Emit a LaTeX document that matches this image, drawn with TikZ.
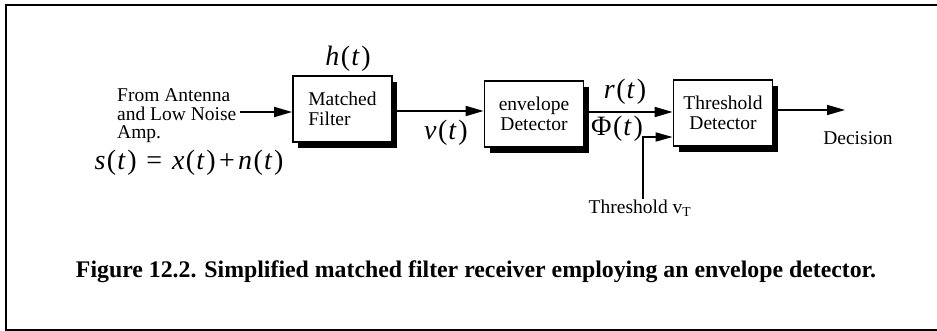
\documentclass[tikz,border=0pt]{standalone}
\usepackage{fontspec}
\setmainfont{Liberation Serif}
\usetikzlibrary{arrows.meta,shadows}
\newcommand{\fnc}[2]{\textit{#1}\kern0.05em(\kern0.04em\textit{#2}\kern0.06em)}
\begin{document}
\begin{tikzpicture}[x=1pt,y=-1pt,
  box/.style={draw, line width=1.8pt, fill=white, minimum width=99pt, minimum height=66pt,
    inner sep=0pt, font=\fontsize{19.5}{20}\selectfont,
    general shadow={fill=black, shadow xshift=5pt, shadow yshift=-6pt}},
  arr/.style={line width=1.7pt, -{Triangle[length=18pt,width=10pt]}},
  lbl/.style={inner sep=0pt, font=\fontsize{19.5}{18.5}\selectfont},
  mth/.style={inner sep=0pt, font=\fontsize{28}{28}\selectfont}]
\useasboundingbox (0,0) rectangle (937,331);
\draw[line width=2.5pt] (937,5) -- (6,5) -- (6,330) -- (937,330);
% boxes
\node[box, align=left] (mf) at (342.5,109) {Matched\\Filter};
\node[box, align=center] (env) at (534,114) {envelope\\Detector};
\node[box, align=center] (thr) at (723,113) {Threshold\\Detector};
% labels
\node[lbl, anchor=west, align=left] (src) at (117,116) {From Antenna\\and Low Noise\\Amp.};
\node[mth] (h) at (348,59) {\fnc{h}{t}};
\node[mth] (s) at (189,163) {\fnc{s}{t}\hspace{0.35em}=\hspace{0.35em}\fnc{x}{t}\kern0.12em+\kern0.12em\fnc{n}{t}};
\node[mth] (v) at (446,133) {\fnc{v}{t}};
\node[mth] (r) at (625,92) {\fnc{r}{t}};
\node[mth] (phi) at (617,129) {Φ\kern0.05em(\kern0.04em\textit{t}\kern0.06em)};
\node[lbl] (dec) at (858,138) {Decision};
\node[lbl] (vtl) at (640,208) {Threshold v\textsubscript{T}};
\node[inner sep=0pt, font=\fontsize{23.8}{24}\selectfont\bfseries] (cap) at (476,272)
  {Figure 12.2. Simplified matched filter receiver employing an envelope detector.};
% connectors
\coordinate (in) at (240,112);
\coordinate (out) at (845,110);
\coordinate (vt) at (643,199);
\draw[arr] (in) -- (in -| mf.west);
\draw[arr] (mf.east |- 0,111) -- (env.west |- 0,111);
\draw[arr] (env.east |- 0,112) -- (thr.west |- 0,112);
\draw[arr] (thr.east |- out) -- (out);
\draw[line width=1.7pt, -{Triangle[length=17pt,width=9pt]}] (vt) |- (thr.west |- 0,137);
\end{tikzpicture}
\end{document}
